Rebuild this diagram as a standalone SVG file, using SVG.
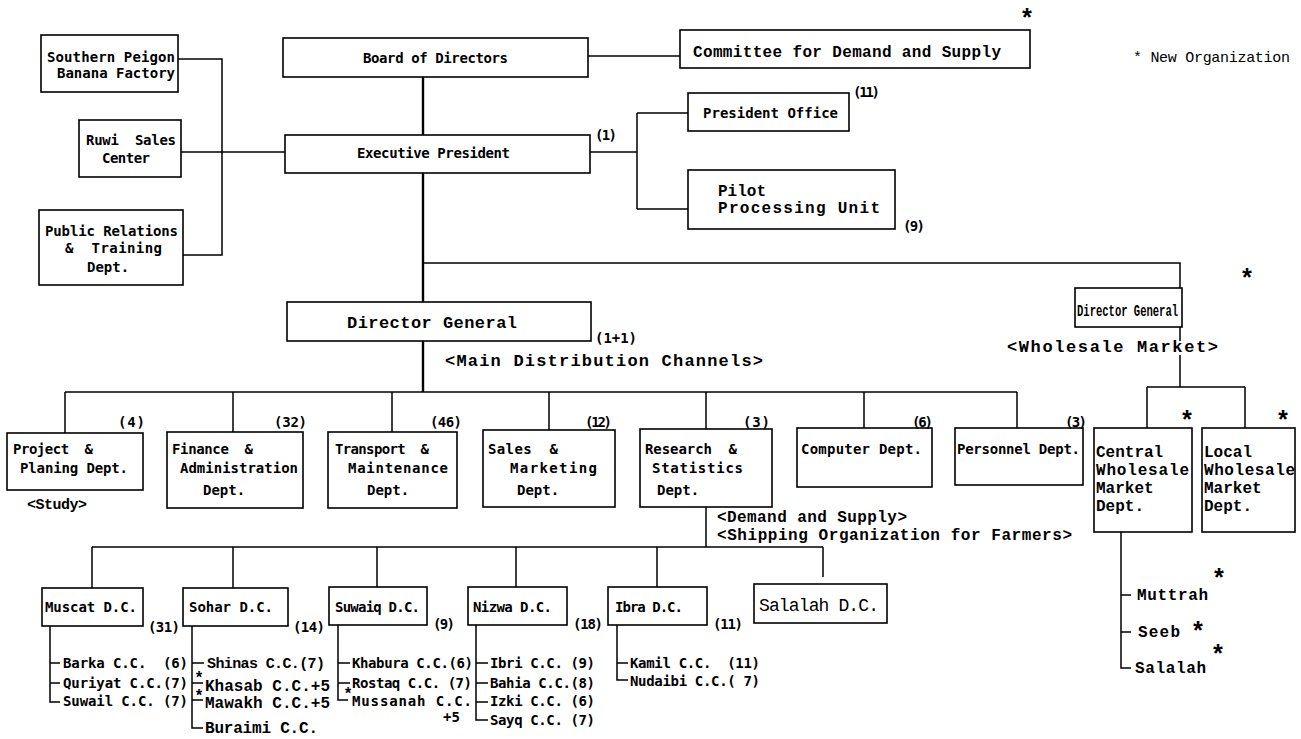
<svg xmlns="http://www.w3.org/2000/svg" width="1301" height="739" viewBox="0 0 1301 739" xml:space="preserve">
<style>
.bx{fill:#fff;stroke:#000;stroke-width:1.6}
.ln{fill:none;stroke:#000;stroke-width:1.5}
.th{fill:none;stroke:#000;stroke-width:2.4}
text{fill:#000;white-space:pre}
.t{font-family:"DejaVu Sans Mono","Liberation Mono",monospace;font-weight:bold;font-size:14px}
.c{font-family:"Liberation Mono","DejaVu Sans Mono",monospace;font-weight:bold;font-size:16px}
.s{font-family:"Liberation Mono",monospace;font-weight:bold;font-size:25px;text-anchor:middle}
</style>
<rect width="1301" height="739" fill="#fff"/>
<g id="connectors">
<path class="ln" d="M178 59H222V255H183M181 152H285"/>
<path class="th" d="M423 77V135M423 173V302M423 341V392"/>
<path class="ln" d="M588 56H680M590 152H637M637 113V209M637 113H688M637 209H688"/>
<path class="ln" d="M423 263H1180V288"/>
<path class="ln" d="M1180 327V341M1180 355V387M1147 387H1245M1147 387V428M1245 387V428"/>
<path class="ln" d="M65 392H1017M65 392V433M233 392V432M392 392V432M549 392V430M706 392V429M864 392V428M1017 392V428"/>
<path class="ln" d="M706 507V547M92 547H823M92 547V588M233 547V588M377 547V587M516 547V587M657 547V587M823 547V577"/>
<path class="ln" d="M1121 532V668H1131M1121 595H1131M1121 632H1131"/>
<path class="ln" d="M50 626V702H60M50 663H60M50 683H60"/>
<path class="ln" d="M192 626V728H203M192 663H204M192 683H203M192 700H203"/>
<path class="ln" d="M338 625V700H348M338 663H350M338 683H350"/>
<path class="ln" d="M476 625V720H488M476 663H488M476 683H488M476 702H488"/>
<path class="ln" d="M617 625V680H628M617 663H628"/>
</g>
<g id="southern"><rect class="bx" x="41" y="35" width="137" height="57"/><text class="t" x="47" y="62" textLength="128">Southern Peigon</text><text class="t" x="57" y="78" textLength="118">Banana Factory</text></g>
<g id="ruwi"><rect class="bx" x="79" y="120" width="102" height="57"/><text class="t" x="86" y="145" textLength="90">Ruwi  Sales</text><text class="t" x="102" y="163" textLength="48">Center</text></g>
<g id="pr"><rect class="bx" x="39" y="210" width="144" height="75"/><text class="t" x="45" y="236" textLength="133">Public Relations</text><text class="t" x="65" y="253" textLength="97">&amp;  Training</text><text class="t" x="87" y="272">Dept.</text></g>
<g id="board"><rect class="bx" x="283" y="38" width="305" height="39"/><text class="t" x="363" y="63" textLength="145">Board of Directors</text></g>
<g id="exec"><rect class="bx" x="285" y="135" width="305" height="38"/><text class="t" x="357" y="158" textLength="153">Executive President</text><text class="t" x="595" y="140" textLength="22">(1)</text></g>
<g id="committee"><rect class="bx" x="680" y="30" width="350" height="38"/><text class="c" x="693" y="57" textLength="308">Committee for Demand and Supply</text><text class="s" x="1027" y="27">*</text></g>
<g id="legend"><text class="c" x="1133" y="62" style="font-size:15px;font-weight:normal" textLength="157">* New Organization</text></g>
<g id="presoffice"><rect class="bx" x="688" y="93" width="161" height="38"/><text class="t" x="703" y="118" textLength="135">President Office</text><text class="t" x="853" y="97" textLength="27">(11)</text></g>
<g id="pilot"><rect class="bx" x="688" y="170" width="207" height="59"/><text class="c" x="718" y="196">Pilot</text><text class="c" x="718" y="213" textLength="162">Processing Unit</text><text class="t" x="903" y="231" textLength="22">(9)</text></g>
<g id="dg"><rect class="bx" x="287" y="302" width="304" height="39"/><text class="c" x="347" y="328" style="font-size:17px" textLength="170">Director General</text><text class="t" x="595" y="343" textLength="42">(1+1)</text><text class="c" x="445" y="366" style="font-size:17px" textLength="318">&lt;Main Distribution Channels&gt;</text></g>
<g id="dgw"><rect class="bx" x="1075" y="288" width="107" height="39"/><text class="c" x="1077" y="316" style="font-size:16px" textLength="101" lengthAdjust="spacingAndGlyphs">Director General</text><text class="s" x="1247" y="287">*</text><text class="c" x="1007" y="352" style="font-size:17px" textLength="211">&lt;Wholesale Market&gt;</text></g>
<g id="project"><rect class="bx" x="7" y="433" width="136" height="57"/><text class="t" x="118" y="427" textLength="27">(4)</text><text class="t" x="13" y="454" textLength="80">Project  &amp;</text><text class="t" x="20" y="473" textLength="108">Planing Dept.</text><text class="c" x="27" y="509" style="font-size:15px" textLength="60">&lt;Study&gt;</text></g>
<g id="finance"><rect class="bx" x="167" y="432" width="136" height="76"/><text class="t" x="274" y="427" textLength="33">(32)</text><text class="t" x="172" y="454" textLength="81">Finance  &amp;</text><text class="t" x="180" y="473" textLength="118">Administration</text><text class="t" x="203" y="495">Dept.</text></g>
<g id="transport"><rect class="bx" x="328" y="432" width="129" height="76"/><text class="t" x="430" y="427" textLength="32">(46)</text><text class="t" x="335" y="454" textLength="94">Transport  &amp;</text><text class="t" x="348" y="473" textLength="100">Maintenance</text><text class="t" x="367" y="495">Dept.</text></g>
<g id="sales"><rect class="bx" x="483" y="430" width="132" height="77"/><text class="t" x="585" y="427" textLength="27">(12)</text><text class="t" x="488" y="454" textLength="70">Sales  &amp;</text><text class="t" x="510" y="473" textLength="87">Marketing</text><text class="t" x="517" y="495">Dept.</text></g>
<g id="research"><rect class="bx" x="640" y="429" width="132" height="78"/><text class="t" x="743" y="427" textLength="27">(3)</text><text class="t" x="645" y="454" textLength="92">Research  &amp;</text><text class="t" x="652" y="473" textLength="91">Statistics</text><text class="t" x="657" y="495">Dept.</text><text class="c" x="717" y="522" textLength="190">&lt;Demand and Supply&gt;</text><text class="c" x="717" y="540" textLength="355">&lt;Shipping Organization for Farmers&gt;</text></g>
<g id="computer"><rect class="bx" x="797" y="428" width="135" height="59"/><text class="t" x="912" y="427" textLength="21">(6)</text><text class="t" x="801" y="454" textLength="121">Computer Dept.</text></g>
<g id="personnel"><rect class="bx" x="955" y="428" width="128" height="57"/><text class="t" x="1065" y="427" textLength="22">(3)</text><text class="t" x="957" y="454" textLength="123">Personnel Dept.</text></g>
<g id="central"><rect class="bx" x="1094" y="428" width="98" height="104"/><text class="s" x="1187" y="429">*</text><text class="c" x="1096" y="457">Central</text><text class="c" x="1096" y="475" textLength="93">Wholesale</text><text class="c" x="1096" y="493">Market</text><text class="c" x="1096" y="511">Dept.</text></g>
<g id="local"><rect class="bx" x="1202" y="428" width="93" height="104"/><text class="s" x="1283" y="429">*</text><text class="c" x="1204" y="457">Local</text><text class="c" x="1204" y="475" textLength="91">Wholesale</text><text class="c" x="1204" y="493">Market</text><text class="c" x="1204" y="511">Dept.</text></g>
<g id="markets"><text class="c" x="1137" y="600" textLength="71">Muttrah</text><text class="s" x="1219" y="587">*</text><text class="c" x="1138" y="637" textLength="42">Seeb</text><text class="s" x="1198" y="640">*</text><text class="c" x="1135" y="673" textLength="71">Salalah</text><text class="s" x="1218" y="663">*</text></g>
<g id="muscat"><rect class="bx" x="42" y="588" width="101" height="38"/><text class="t" x="45" y="612" textLength="92">Muscat D.C.</text><text class="t" x="148" y="632" textLength="32">(31)</text><text class="t" x="63" y="668" textLength="125">Barka C.C.  (6)</text><text class="t" x="63" y="688" textLength="125">Quriyat C.C.(7)</text><text class="t" x="63" y="706" textLength="125">Suwail C.C. (7)</text></g>
<g id="sohar"><rect class="bx" x="183" y="588" width="105" height="38"/><text class="t" x="189" y="612" textLength="84">Sohar D.C.</text><text class="t" x="293" y="632" textLength="32">(14)</text><text class="c" x="207" y="668" style="font-size:15px" textLength="118">Shinas C.C.(7)</text><text class="c" x="205" y="691" textLength="125">Khasab C.C.+5</text><text class="c" x="205" y="708" textLength="125">Mawakh C.C.+5</text><text class="c" x="205" y="733" textLength="113">Buraimi C.C.</text><text class="s" x="199" y="683" style="font-size:16px">*</text><text class="s" x="199" y="701" style="font-size:16px">*</text></g>
<g id="suwaiq"><rect class="bx" x="329" y="587" width="98" height="38"/><text class="t" x="335" y="612" textLength="85">Suwaiq D.C.</text><text class="t" x="433" y="629" textLength="22">(9)</text><text class="t" x="352" y="668" textLength="121">Khabura C.C.(6)</text><text class="t" x="352" y="688" textLength="120">Rostaq C.C. (7)</text><text class="t" x="352" y="706" textLength="120">Mussanah C.C.</text><text class="t" x="443" y="722" textLength="17">+5</text><text class="s" x="348" y="699" style="font-size:16px">*</text></g>
<g id="nizwa"><rect class="bx" x="468" y="587" width="99" height="38"/><text class="t" x="473" y="612" textLength="79">Nizwa D.C.</text><text class="t" x="573" y="629" textLength="30">(18)</text><text class="t" x="490" y="668" textLength="105">Ibri C.C. (9)</text><text class="t" x="490" y="688" textLength="105">Bahia C.C.(8)</text><text class="t" x="490" y="706" textLength="105">Izki C.C. (6)</text><text class="t" x="490" y="725" textLength="105">Sayq C.C. (7)</text></g>
<g id="ibra"><rect class="bx" x="608" y="587" width="99" height="38"/><text class="t" x="615" y="612" textLength="68">Ibra D.C.</text><text class="t" x="713" y="629" textLength="30">(11)</text><text class="t" x="630" y="668" textLength="130">Kamil C.C.  (11)</text><text class="t" x="630" y="686" textLength="130">Nudaibi C.C.( 7)</text></g>
<g id="salalahdc"><rect class="bx" x="754" y="584" width="133" height="39"/><text x="759" y="611" style="font-family:'Liberation Mono',monospace;font-size:18px" textLength="120">Salalah D.C.</text></g>
</svg>
